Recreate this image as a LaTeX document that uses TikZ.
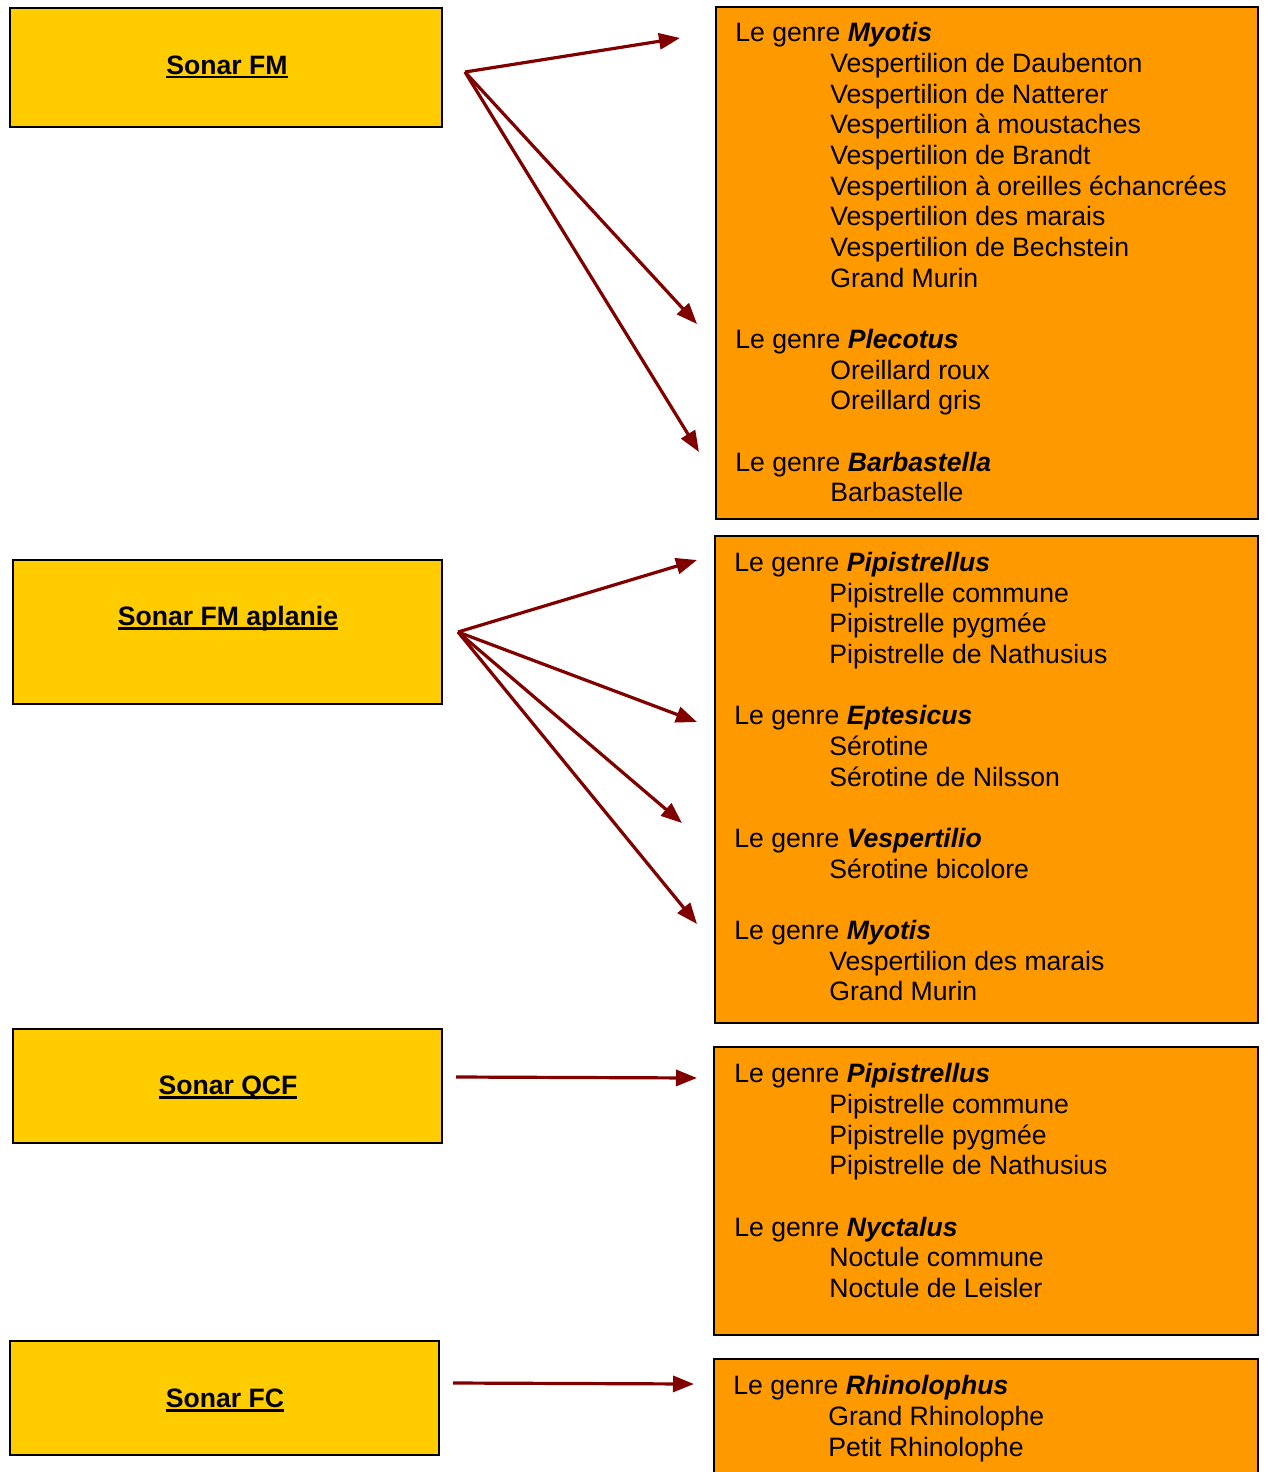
\documentclass[tikz,border=0pt]{standalone}
\usepackage{fontspec}
\setmainfont{Liberation Sans}
\usetikzlibrary{arrows.meta}
\definecolor{ybox}{HTML}{FFCC00}
\definecolor{obox}{HTML}{FF9900}
\definecolor{arrred}{HTML}{800000}
\newcommand\ulb[1]{\setbox0=\hbox{#1}\copy0\llap{\rule[-2.2pt]{\wd0}{1.4pt}}}
\newcommand\gn[1]{\textbf{\textit{#1}}}
\begin{document}
\begin{tikzpicture}[x=0.5pt,y=-0.5pt,
 lbox/.style={draw=black,fill=ybox,line width=1pt,inner sep=0pt},
 ltxt/.style={inner sep=0pt,font=\fontsize{13.3}{15.35}\selectfont\bfseries},
 rbox/.style={draw=black,fill=obox,line width=1pt,inner sep=0pt},
 gen/.style={anchor=base west,inner sep=0pt,font=\fontsize{13.3}{15.35}\selectfont},
 arr/.style={draw=arrred,line width=1.6pt,-{Triangle[length=10.5pt,width=8pt]}}]
\useasboundingbox (0,0) rectangle (1266,1472);
% left boxes
\node[lbox,minimum width=216pt,minimum height=59.5pt] (sfm) at (226,67.5) {};
\node[lbox,minimum width=214.5pt,minimum height=72pt] (sfma) at (227.5,632) {};
\node[lbox,minimum width=214.5pt,minimum height=57pt] (sqcf) at (227.5,1086) {};
\node[lbox,minimum width=214.5pt,minimum height=57pt] (sfc) at (224.5,1398) {};
\node[ltxt] (lfm) at (227,67) {\ulb{Sonar FM}};
\node[ltxt] (lfma) at (228,619) {\ulb{Sonar FM aplanie}};
\node[ltxt] (lqcf) at (228,1088) {\ulb{Sonar QCF}};
\node[ltxt] (lfc) at (225,1400) {\ulb{Sonar FC}};
% right boxes
\node[rbox,minimum width=271pt,minimum height=256pt] (r1) at (987,263) {};
\node[rbox,minimum width=271.5pt,minimum height=243.5pt] (r2) at (986.5,779.5) {};
\node[rbox,minimum width=272pt,minimum height=144pt] (r3) at (986,1191) {};
\node[rbox,minimum width=272pt,minimum height=65.5pt] (r4) at (986,1424.5) {};
% box 1 texts
\node[gen] (a1) at (735,41) {Le genre \gn{Myotis}};
\node[gen] (a2) at (830,72) {Vespertilion de Daubenton};
\node[gen] (a3) at (830,103) {Vespertilion de Natterer};
\node[gen] (a4) at (830,133.5) {Vespertilion à moustaches};
\node[gen] (a5) at (830,164.3) {Vespertilion de Brandt};
\node[gen] (a6) at (830,195) {Vespertilion à oreilles échancrées};
\node[gen] (a7) at (830,225.5) {Vespertilion des marais};
\node[gen] (a8) at (830,256.3) {Vespertilion de Bechstein};
\node[gen] (a9) at (830,287) {Grand Murin};
\node[gen] (a10) at (735,348.3) {Le genre \gn{Plecotus}};
\node[gen] (a11) at (830,379) {Oreillard roux};
\node[gen] (a12) at (830,409.8) {Oreillard gris};
\node[gen] (a13) at (735,471) {Le genre \gn{Barbastella}};
\node[gen] (a14) at (830,501.8) {Barbastelle};
% box 2 texts
\node[gen] (b1) at (734,571) {Le genre \gn{Pipistrellus}};
\node[gen] (b2) at (829,602) {Pipistrelle commune};
\node[gen] (b3) at (829,632.4) {Pipistrelle pygmée};
\node[gen] (b4) at (829,663.1) {Pipistrelle de Nathusius};
\node[gen] (b5) at (734,724.5) {Le genre \gn{Eptesicus}};
\node[gen] (b6) at (829,755.2) {Sérotine};
\node[gen] (b7) at (829,786.2) {Sérotine de Nilsson};
\node[gen] (b8) at (734,847.3) {Le genre \gn{Vespertilio}};
\node[gen] (b9) at (829,878) {Sérotine bicolore};
\node[gen] (b10) at (734,939.4) {Le genre \gn{Myotis}};
\node[gen] (b11) at (829,970.1) {Vespertilion des marais};
\node[gen] (b12) at (829,1000.8) {Grand Murin};
% box 3 texts
\node[gen] (c1) at (734,1082) {Le genre \gn{Pipistrellus}};
\node[gen] (c2) at (829,1113) {Pipistrelle commune};
\node[gen] (c3) at (829,1144) {Pipistrelle pygmée};
\node[gen] (c4) at (829,1174.3) {Pipistrelle de Nathusius};
\node[gen] (c5) at (734,1236) {Le genre \gn{Nyctalus}};
\node[gen] (c6) at (829,1266.5) {Noctule commune};
\node[gen] (c7) at (829,1297.3) {Noctule de Leisler};
% box 4 texts
\node[gen] (d1) at (733,1394) {Le genre \gn{Rhinolophus}};
\node[gen] (d2) at (828,1425) {Grand Rhinolophe};
\node[gen] (d3) at (828,1456) {Petit Rhinolophe};
% arrow coordinates
\coordinate (o1) at (465,72);
\coordinate (t11) at (680,38);
\coordinate (t12) at (697,324);
\coordinate (t13) at (699,452);
\coordinate (o2) at (458,632);
\coordinate (t21) at (697,560);
\coordinate (t22) at (697,722);
\coordinate (t23) at (682,823);
\coordinate (t24) at (697,924);
\coordinate (o3) at (456,1077);
\coordinate (t31) at (697,1078);
\coordinate (o4) at (453,1383);
\coordinate (t41) at (694,1384);
\draw[arr] (o1) -- (t11);
\draw[arr] (o1) -- (t12);
\draw[arr] (o1) -- (t13);
\draw[arr] (o2) -- (t21);
\draw[arr] (o2) -- (t22);
\draw[arr] (o2) -- (t23);
\draw[arr] (o2) -- (t24);
\draw[arr] (o3) -- (t31);
\draw[arr] (o4) -- (t41);
\end{tikzpicture}
\end{document}
